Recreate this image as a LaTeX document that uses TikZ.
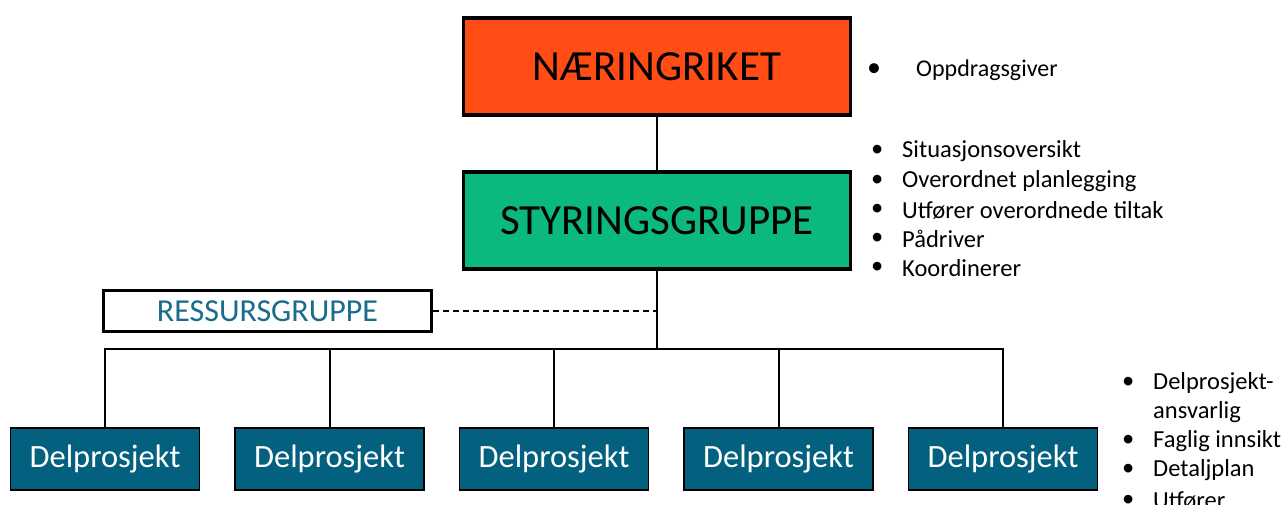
\documentclass[tikz,border=0pt]{standalone}
\usepackage{fontspec}
\setmainfont{Carlito}
\definecolor{orangebox}{HTML}{FF4D15}
\definecolor{greenbox}{HTML}{0BB97F}
\definecolor{tealbox}{HTML}{03607E}
\definecolor{tealtext}{HTML}{1B6B8C}
\begin{document}
\begin{tikzpicture}[x=1pt,y=-1pt,
  topbox/.style={draw=black,line width=3.3pt,minimum width=387pt,minimum height=97pt,inner sep=0pt,font=\fontsize{43}{48}\selectfont},
  resbox/.style={draw=black,line width=3.3pt,fill=white,minimum width=328pt,minimum height=41pt,inner sep=0pt,text=tealtext,font=\fontsize{32}{36}\selectfont},
  dpbox/.style={draw=black,line width=1.3pt,fill=tealbox,minimum width=189pt,minimum height=62pt,inner sep=0pt,text=white,font=\fontsize{32.5}{36}\selectfont},
  conn/.style={draw=black,line width=2pt},
  bul/.style={anchor=west,inner sep=0pt,font=\fontsize{24.5}{28}\selectfont},
  bulsmall/.style={anchor=west,inner sep=0pt,font=\fontsize{24}{28}\selectfont}]
\useasboundingbox (0,0) rectangle (1284,505);
\node[topbox,fill=orangebox] (n1) at (657,66.5) {NÆRINGRIKET};
\node[topbox,fill=greenbox] (n2) at (657,220.5) {STYRINGSGRUPPE};
\node[resbox] (r) at (267.5,311) {RESSURSGRUPPE};
\node[dpbox] (d1) at (105,459) {Delprosjekt};
\node[dpbox] (d2) at (329.5,459) {Delprosjekt};
\node[dpbox] (d3) at (554,459) {Delprosjekt};
\node[dpbox] (d4) at (778.5,459) {Delprosjekt};
\node[dpbox] (d5) at (1003,459) {Delprosjekt};
\coordinate (j) at (657,349);
\draw[conn] (n1.south) -- (n2.north);
\draw[conn] (n2.south) -- (j);
\draw[conn] (d1.north) |- (j) -| (d5.north);
\draw[conn] (d2.north) -- (d2.north |- j);
\draw[conn] (d3.north) -- (d3.north |- j);
\draw[conn] (d4.north) -- (d4.north |- j);
\draw[conn,dashed,dash pattern=on 6pt off 4pt] (r.east) -- (r.east -| j);
% bullets top
\node[bulsmall,font=\fontsize{28}{30}\selectfont] (b0) at (867,70) {\textbullet};
\node[bulsmall] (t0) at (916,70) {Oppdragsgiver};
\node[bul] (b1) at (871,151) {\textbullet};
\node[bul] (t1) at (902,151) {Situasjonsoversikt};
\node[bul] (b2) at (871,181) {\textbullet};
\node[bul] (t2) at (902,181) {Overordnet planlegging};
\node[bul] (b3) at (871,210) {\textbullet};
\node[bul] (t3) at (902,210) {Utfører overordnede tiltak};
\node[bul] (b4) at (871,239) {\textbullet};
\node[bul] (t4) at (902,239) {Pådriver};
\node[bul] (b5) at (871,268) {\textbullet};
\node[bul] (t5) at (902,268) {Koordinerer};
% bullets bottom
\node[bul] (c1) at (1122,383) {\textbullet};
\node[bul] (u1) at (1153,383) {Delprosjekt-};
\node[bul] (u1b) at (1153,412) {ansvarlig};
\node[bul] (c2) at (1122,441) {\textbullet};
\node[bul] (u2) at (1153,441) {Faglig innsikt};
\node[bul] (c3) at (1122,470) {\textbullet};
\node[bul] (u3) at (1153,470) {Detaljplan};
\node[bul] (c4) at (1122,501) {\textbullet};
\node[bul] (u4) at (1153,501) {Utfører};
\end{tikzpicture}
\end{document}
